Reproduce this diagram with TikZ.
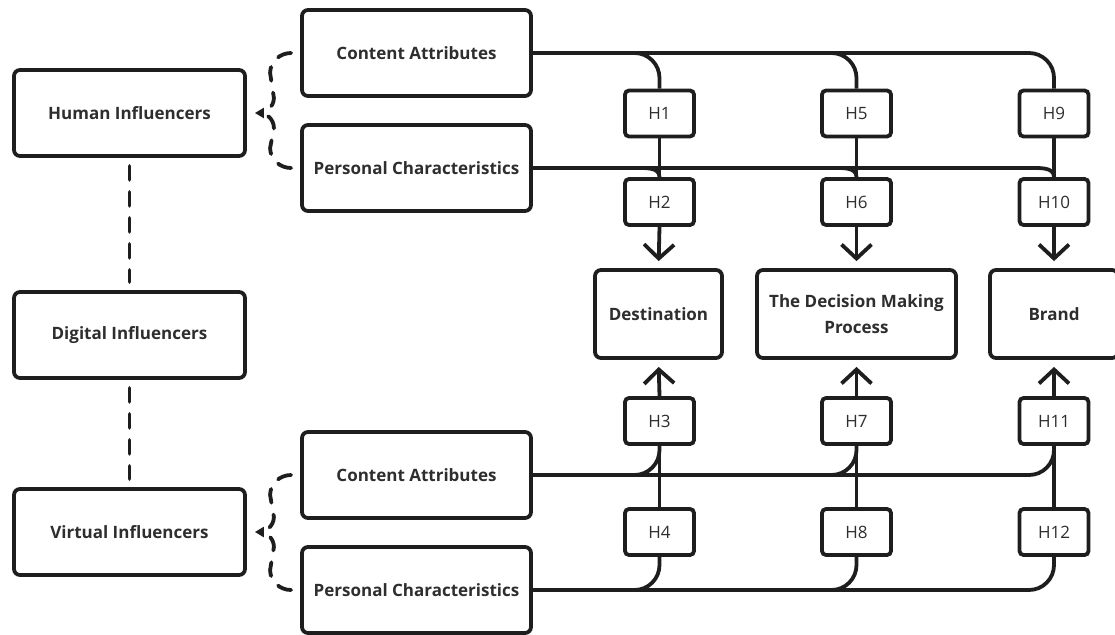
\documentclass[tikz,border=0pt]{standalone}
\usepackage{fontspec}
\setmainfont{Open Sans}
\usetikzlibrary{arrows.meta,calc}
\definecolor{linec}{HTML}{1E1E1E}
\definecolor{textc}{HTML}{2E2E2E}
\begin{document}
\begin{tikzpicture}[x=1pt,y=-1pt,
  every node/.style={inner sep=0pt},
  bigbox/.style={draw=linec, line width=3.8pt, rounded corners=6pt, fill=white, text=textc, align=center, font=\bfseries\fontsize{17}{26}\selectfont},
  leftbox/.style={bigbox, minimum width=231pt, minimum height=86pt},
  midbox/.style={bigbox, minimum width=229pt, minimum height=86pt},
  tgtbox/.style={bigbox, minimum height=88pt},
  hbox/.style={draw=linec, line width=3.8pt, rounded corners=4pt, fill=white, text=textc, minimum width=69pt, minimum height=46pt, font=\fontsize{17}{20}\selectfont},
  conn/.style={draw=linec, line width=3.8pt},
  dashconn/.style={conn, dash pattern=on 14pt off 12pt, line cap=round},
  arr/.style={conn, -{Straight Barb[length=14pt,width=30pt]}, shorten >=7pt}
]
\useasboundingbox (0,0) rectangle (1115,634);

% left column
\node[leftbox] (hum) at (129.5,113) {Human Influencers};
\node[leftbox] (dig) at (129.5,335) {Digital Influencers};
\node[leftbox] (vir) at (129.5,532) {Virtual Influencers};
% middle column
\node[midbox] (ca1) at (416.5,53) {Content Attributes};
\node[midbox] (pc1) at (416.5,168) {Personal Characteristics};
\node[midbox] (ca2) at (416.5,475) {Content Attributes};
\node[midbox] (pc2) at (416.5,590) {Personal Characteristics};
% targets
\node[tgtbox, minimum width=127pt] (dest) at (658.5,314) {Destination};
\node[tgtbox, minimum width=199pt] (dmp) at (856.5,314) {The Decision Making\\Process};
\node[tgtbox, minimum width=128pt] (brand) at (1054,314) {Brand};
% hypotheses
\node[hbox] (h1) at (659.5,113.5) {H1};
\node[hbox] (h2) at (659.5,202) {H2};
\node[hbox] (h3) at (659.5,421) {H3};
\node[hbox] (h4) at (659.5,532) {H4};
\node[hbox] (h5) at (856.5,113.5) {H5};
\node[hbox] (h6) at (856.5,202) {H6};
\node[hbox] (h7) at (856.5,421) {H7};
\node[hbox] (h8) at (856.5,532) {H8};
\node[hbox] (h9) at (1054,113.5) {H9};
\node[hbox] (h10) at (1054,202) {H10};
\node[hbox] (h11) at (1054,421) {H11};
\node[hbox] (h12) at (1054,532) {H12};

% connectors from content attributes (top)
\foreach \h in {h1,h5,h9}
  \draw[conn, rounded corners=25pt] (ca1.east) -| (\h.north);
% connectors from personal characteristics (top)
\foreach \h in {h2,h6,h10}
  \draw[conn] (pc1.east) -- ([xshift=-24pt]pc1.east -| \h.north) to[out=0,in=90] (\h.north);
% connectors from content attributes (bottom)
\foreach \h in {h3,h7,h11}
  \draw[conn, rounded corners=25pt] (ca2.east) -| (\h.south);
% connectors from personal characteristics (bottom)
\foreach \h in {h4,h8,h12}
  \draw[conn, rounded corners=25pt] (pc2.east) -| (\h.south);

% vertical chains
\draw[conn] (h1.south) -- (h2.north);
\draw[conn] (h5.south) -- (h6.north);
\draw[conn] (h9.south) -- (h10.north);
\draw[conn] (h4.north) -- (h3.south);
\draw[conn] (h8.north) -- (h7.south);
\draw[conn] (h12.north) -- (h11.south);

% arrows into targets
\draw[arr] (h2.south) -- (dest.north);
\draw[arr] (h6.south) -- (dmp.north);
\draw[arr] (h10.south) -- (brand.north);
\draw[arr] (h3.north) -- (dest.south);
\draw[arr] (h7.north) -- (dmp.south);
\draw[arr] (h11.north) -- (brand.south);

% dashed links on the left
\draw[dashconn, shorten <=8pt, shorten >=8pt] (hum.south) -- (dig.north);
\draw[dashconn, shorten <=8pt, shorten >=8pt] (dig.south) -- (vir.north);

% braces
\draw[dashconn, -{Triangle[length=9pt,width=10pt]}]
  ($(ca1.west)+(-9,0)$) to[out=180,in=90] ($(ca1.west)+(-30,20)$)
  -- ($(hum.east)+(27,-15)$) to[out=-90,in=0] ($(hum.east)+(8,0)$);
\draw[dashconn]
  ($(pc1.west)+(-9,0)$) to[out=180,in=-90] ($(pc1.west)+(-30,-20)$)
  -- ($(hum.east)+(27,15)$) to[out=90,in=0] ($(hum.east)+(12,0)$);
\draw[dashconn, -{Triangle[length=9pt,width=10pt]}]
  ($(ca2.west)+(-9,0)$) to[out=180,in=90] ($(ca2.west)+(-30,20)$)
  -- ($(vir.east)+(27,-15)$) to[out=-90,in=0] ($(vir.east)+(8,0)$);
\draw[dashconn]
  ($(pc2.west)+(-9,0)$) to[out=180,in=-90] ($(pc2.west)+(-30,-20)$)
  -- ($(vir.east)+(27,15)$) to[out=90,in=0] ($(vir.east)+(12,0)$);
\end{tikzpicture}
\end{document}
